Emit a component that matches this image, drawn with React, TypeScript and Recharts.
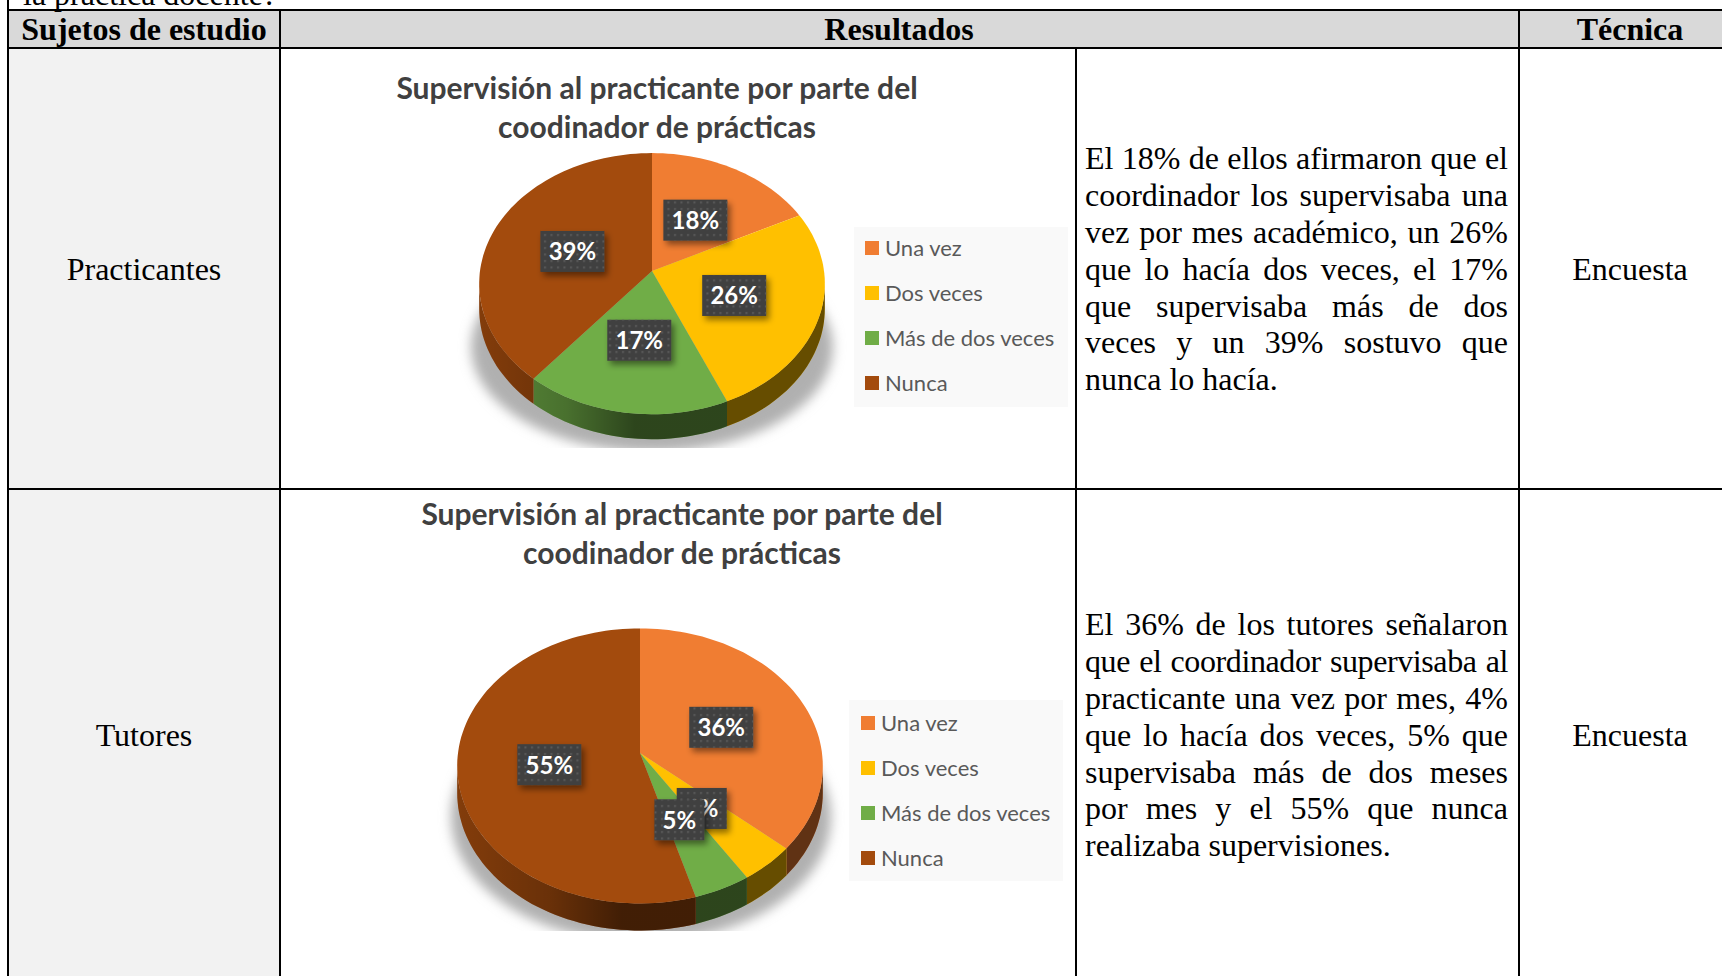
import { Legend, Pie, PieChart } from "recharts";

const categories = ["Una vez", "Dos veces", "Más de dos veces", "Nunca"];
const colors = ["#F07D32", "#FFC000", "#70AD47", "#A34B0D"];
const practicantesValues = [17.6, 25.9, 17.5, 39];
const practicantesLabels = ["18%", "26%", "17%", "39%"];
const tutoresValues = [36.4, 4.5, 4.6, 54.5];
const tutoresLabels = ["36%", "4%", "5%", "55%"];
const titleLines = ["Supervisión al practicante por parte del", "coodinador de prácticas"];
const practicantesText = [
  "El 18% de ellos afirmaron que el",
  "coordinador los supervisaba una",
  "vez por mes académico, un 26%",
  "que lo hacía dos veces, el 17%",
  "que supervisaba más de dos",
  "veces y un 39% sostuvo que",
  "nunca lo hacía.",
];
const tutoresText = [
  "El 36% de los tutores señalaron",
  "que el coordinador supervisaba al",
  "practicante una vez por mes, 4%",
  "que lo hacía dos veces, 5% que",
  "supervisaba más de dos meses",
  "por mes y el 55% que nunca",
  "realizaba supervisiones.",
];

const SERIF = "'Liberation Serif', serif";
const SANS = "Lato, sans-serif";
const CHART_W = 794;
const CHART_H = 440;

// circle -> tilted ellipse, the pie top is seen in perspective
function project(cx: number, cy: number, r: number, deg: number, frac: number, squash: number, tilt: number) {
  const t = (deg * Math.PI) / 180;
  const s = Math.cos(t) * frac;
  const c = Math.sin(t) * frac;
  const d = 1 - tilt * c;
  return { x: cx + (r * s) / d, y: cy - (r * squash * c) / d };
}

function arcPoints(p: any, from: number, to: number, squash: number, tilt: number, dy = 0) {
  const n = Math.max(2, Math.ceil(Math.abs(to - from) / 2));
  const pts: string[] = [];
  for (let i = 0; i <= n; i++) {
    const q = project(p.cx, p.cy, p.outerRadius, from + ((to - from) * i) / n, 1, squash, tilt);
    pts.push(q.x.toFixed(1) + " " + (q.y + dy).toFixed(1));
  }
  return pts;
}

function PieSlice(props: any, squash: number, tilt: number, depth: number, gradId: string) {
  const { startAngle, endAngle, fill, cx, cy } = props;
  // front part of the rim only, from 3 o'clock round to 9 o'clock
  const from = Math.min(startAngle, -5.5);
  const to = Math.max(endAngle, -174.5);
  const top = arcPoints(props, startAngle, endAngle, squash, tilt);
  let wall = null;
  if (from > to) {
    const upper = arcPoints(props, from, to, squash, tilt);
    const lower = arcPoints(props, from, to, squash, tilt, depth).reverse();
    const d = "M" + upper.join("L") + "L" + lower.join("L") + "Z";
    wall = (
      <g>
        <path d={d} fill={fill} />
        <path d={d} fill={`url(#${gradId})`} />
      </g>
    );
  }
  return (
    <g>
      {wall}
      <path d={`M${cx} ${cy}L${top.join("L")}Z`} fill={fill} />
    </g>
  );
}

function DataBox(props: any, text: string, squash: number, tilt: number, patId: string, filterId: string) {
  const pos = project(props.cx, props.cy, props.outerRadius, props.midAngle, 0.5, squash, tilt);
  const w = text.length > 2 ? 64 : 50;
  const h = 41;
  const y = pos.y + 2;
  return (
    <g key={text}>
      <rect x={pos.x - w / 2} y={y - h / 2} width={w} height={h} fill="#404040" filter={`url(#${filterId})`} />
      <rect x={pos.x - w / 2} y={y - h / 2} width={w} height={h} fill={`url(#${patId})`} />
      <text x={pos.x} y={y + 9} textAnchor="middle" fill="#fff" fontFamily={SANS} fontWeight={700} fontSize={24}>
        {text}
      </text>
    </g>
  );
}

function LegendBox({ payload, rowGap, padLeft, padTop }: any) {
  return (
    <div style={{ width: "100%", height: "100%", background: "#f9f9f9", position: "relative" }}>
      {(payload ?? []).map((item: any, i: number) => (
        <div key={item.value} style={{ position: "absolute", left: padLeft, top: padTop + i * rowGap, height: 15, display: "flex", alignItems: "center" }}>
          <span style={{ width: 14, height: 14, background: item.color, display: "block", marginRight: 6 }} />
          <span style={{ fontFamily: SANS, fontSize: 22, color: "#595959", whiteSpace: "nowrap" }}>{item.value}</span>
        </div>
      ))}
    </div>
  );
}

function SurveyPie(p: {
  id: string; left: number; top: number; values: number[]; labels: string[];
  cx: number; cy: number; radius: number; squash: number; tilt: number; depth: number;
  titleX: number; titleY: number[];
  shadow: { x: number; y: number; w: number; h: number; clipBottom: number };
  legend: { left: number; top: number; width: number; height: number; rowGap: number; padLeft: number; padTop: number };
}) {
  const data = categories.map((name, i) => ({ name, value: p.values[i], fill: colors[i] }));
  const gradId = p.id + "-wall";
  const patId = p.id + "-dots";
  const filterId = p.id + "-shadow";
  const blurId = p.id + "-blur";
  const clipId = p.id + "-clip";
  return (
    <div style={{ position: "absolute", left: p.left, top: p.top }}>
      <PieChart width={CHART_W} height={CHART_H} margin={{ top: 0, right: 0, bottom: 0, left: 0 }}>
        <defs>
          <linearGradient id={gradId} gradientUnits="userSpaceOnUse" x1={p.cx - p.radius} x2={p.cx + p.radius} y1={0} y2={0}>
            <stop offset="0" stopColor="#000" stopOpacity={0.2} />
            <stop offset="0.25" stopColor="#000" stopOpacity={0.35} />
            <stop offset="0.45" stopColor="#000" stopOpacity={0.6} />
            <stop offset="1" stopColor="#000" stopOpacity={0.6} />
          </linearGradient>
          <pattern id={patId} width={6.5} height={6.5} patternUnits="userSpaceOnUse">
            <rect x={2} y={2} width={2} height={2} fill="#5a5a5a" />
          </pattern>
          <filter id={filterId} x="-30%" y="-30%" width="170%" height="170%">
            <feDropShadow dx={3} dy={4} stdDeviation={3} floodColor="#000" floodOpacity={0.45} />
          </filter>
          <filter id={blurId} x="-20%" y="-20%" width="140%" height="140%">
            <feGaussianBlur stdDeviation={6} />
          </filter>
          <clipPath id={clipId}>
            <rect x={0} y={0} width={CHART_W} height={p.shadow.clipBottom} />
          </clipPath>
        </defs>
        <g clipPath={`url(#${clipId})`}>
          <ellipse cx={p.shadow.x} cy={p.shadow.y} rx={p.shadow.w} ry={p.shadow.h} fill="#b0b0b0" filter={`url(#${blurId})`} />
        </g>
        {titleLines.map((line, i) => (
          <text key={line} x={p.titleX} y={p.titleY[i]} textAnchor="middle" fontFamily={SANS} fontWeight={700} fontSize={30} fill="#404040">
            {line}
          </text>
        ))}
        <Pie
          data={data}
          dataKey="value"
          nameKey="name"
          cx={p.cx}
          cy={p.cy}
          outerRadius={p.radius}
          startAngle={90}
          endAngle={-270}
          stroke="none"
          isAnimationActive={false}
          labelLine={false}
          shape={(s: any) => PieSlice(s, p.squash, p.tilt, p.depth, gradId)}
          label={(s: any) => DataBox(s, p.labels[s.index], p.squash, p.tilt, patId, filterId)}
        />
        <Legend
          layout="vertical"
          align="right"
          verticalAlign="top"
          itemSorter={null}
          wrapperStyle={{ left: p.legend.left, right: "auto", top: p.legend.top, width: p.legend.width, height: p.legend.height }}
          content={(l: any) => <LegendBox payload={l.payload} rowGap={p.legend.rowGap} padLeft={p.legend.padLeft} padTop={p.legend.padTop} />}
        />
      </PieChart>
    </div>
  );
}

function HLine({ y, x = 8, w = 1714, h = 2 }: { y: number; x?: number; w?: number; h?: number }) {
  return <div style={{ position: "absolute", left: x, top: y, width: w, height: h, background: "#000" }} />;
}
function VLine({ x, y = 10, h = 966 }: { x: number; y?: number; h?: number }) {
  return <div style={{ position: "absolute", left: x, top: y, width: 2, height: h, background: "#000" }} />;
}
function Cell({ x, y, w, text, bold, size = 32 }: { x: number; y: number; w: number; text: string; bold?: boolean; size?: number }) {
  return (
    <div style={{ position: "absolute", left: x, top: y, width: w, textAlign: "center", fontFamily: SERIF, fontSize: size, fontWeight: bold ? 700 : 400, lineHeight: "36px", color: "#000", whiteSpace: "nowrap" }}>
      {text}
    </div>
  );
}
function Paragraph({ lines, top }: { lines: string[]; top: number }) {
  return (
    <div style={{ position: "absolute", left: 1085, top, width: 423, fontFamily: SERIF, fontSize: 32, lineHeight: "36.9px", color: "#000" }}>
      {lines.map((line, i) => (
        <div key={line} style={{ textAlign: "justify", textAlignLast: i === lines.length - 1 ? "left" : "justify", height: 36.9, letterSpacing: line.length > 32 ? -0.4 : 0 }}>
          {line}
        </div>
      ))}
    </div>
  );
}

export default function App() {
  return (
    <div style={{ position: "absolute", left: 0, top: 0, width: 1722, height: 976, overflow: "hidden", background: "#fff" }}>
      <div style={{ position: "absolute", left: 8, top: 10, width: 1714, height: 38, background: "#D9D9D9" }} />
      <div style={{ position: "absolute", left: 8, top: 48, width: 272, height: 928, background: "#F2F2F2" }} />
      <div style={{ position: "absolute", left: 23, top: -24, fontFamily: SERIF, fontSize: 32, lineHeight: "36px", whiteSpace: "nowrap" }}>la práctica docente?</div>

      <SurveyPie
        id="p1" left={282} top={50} values={practicantesValues} labels={practicantesLabels}
        cx={370} cy={221} radius={172} squash={0.752} tilt={-0.097} depth={25}
        titleX={375} titleY={[49, 88]}
        shadow={{ x: 370, y: 297, w: 181, h: 105, clipBottom: 398 }}
        legend={{ left: 572, top: 177, width: 214, height: 180, rowGap: 45, padLeft: 11, padTop: 13 }}
      />
      <SurveyPie
        id="p2" left={282} top={491} values={tutoresValues} labels={tutoresLabels}
        cx={358} cy={262} radius={182} squash={0.749} tilt={-0.094} depth={27}
        titleX={400} titleY={[34, 73]}
        shadow={{ x: 359, y: 326, w: 190, h: 125, clipBottom: 449 }}
        legend={{ left: 567, top: 209, width: 214, height: 181, rowGap: 45, padLeft: 12, padTop: 15 }}
      />

      <HLine y={9} />
      <HLine y={47} />
      <HLine y={488} />
      <VLine x={7} y={0} h={976} />
      <VLine x={279} />
      <VLine x={1075} y={48} h={928} />
      <VLine x={1518} />

      <Cell x={8} y={11} w={272} text="Sujetos de estudio" bold />
      <Cell x={280} y={11} w={1238} text="Resultados" bold />
      <Cell x={1520} y={11} w={220} text="Técnica" bold />
      <Cell x={8} y={251} w={272} text="Practicantes" />
      <Cell x={8} y={717} w={272} text="Tutores" />
      <Cell x={1520} y={251} w={220} text="Encuesta" />
      <Cell x={1520} y={717} w={220} text="Encuesta" />

      <Paragraph lines={practicantesText} top={140} />
      <Paragraph lines={tutoresText} top={606} />
    </div>
  );
}
